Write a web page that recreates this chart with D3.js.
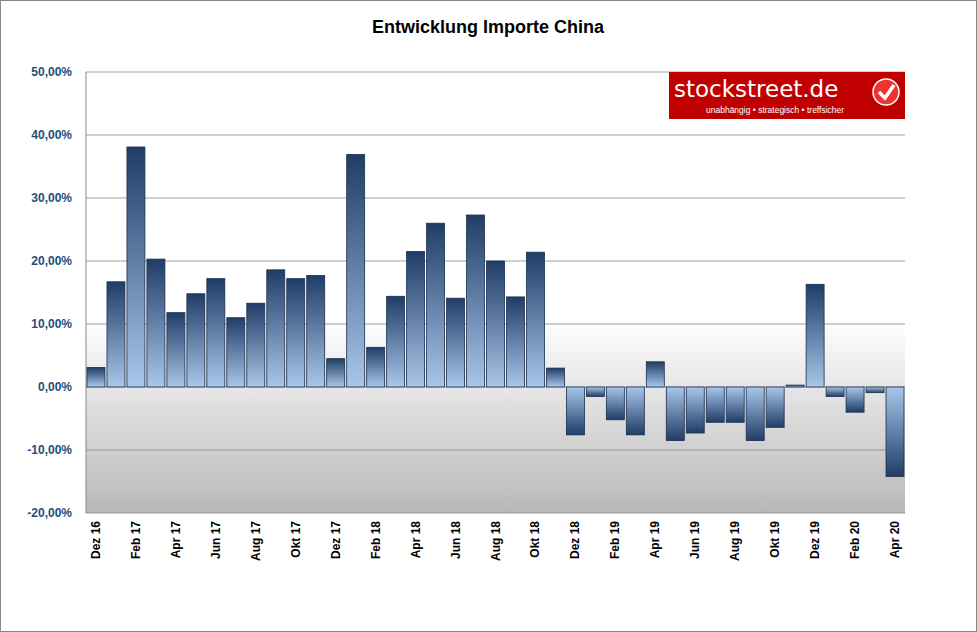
<!DOCTYPE html>
<html><head><meta charset="utf-8">
<script src="https://cdn.jsdelivr.net/npm/d3@7"></script>
<style>body{margin:0;background:#fff}svg{display:block}</style></head>
<body><svg id="c" width="977" height="632"></svg>
<script>
const categories=["Dez 16","Jan 17","Feb 17","Mär 17","Apr 17","Mai 17","Jun 17","Jul 17","Aug 17","Sep 17","Okt 17","Nov 17","Dez 17","Jan 18","Feb 18","Mär 18","Apr 18","Mai 18","Jun 18","Jul 18","Aug 18","Sep 18","Okt 18","Nov 18","Dez 18","Jan 19","Feb 19","Mär 19","Apr 19","Mai 19","Jun 19","Jul 19","Aug 19","Sep 19","Okt 19","Nov 19","Dez 19","Jan 20","Feb 20","Mär 20","Apr 20"];
const values=[3.1,16.7,38.1,20.3,11.8,14.8,17.2,11.0,13.3,18.6,17.2,17.7,4.5,36.9,6.3,14.4,21.5,26.0,14.1,27.3,20.0,14.3,21.4,3.0,-7.6,-1.5,-5.2,-7.6,4.0,-8.5,-7.3,-5.6,-5.6,-8.5,-6.4,0.3,16.3,-1.5,-4.0,-0.9,-14.2];
const yTicks=[-20,-10,0,10,20,30,40,50];
const svg=d3.select("#c");
const L=86,R=905,T=72,B=513;
svg.append("rect").attr("x",0.5).attr("y",0.5).attr("width",976).attr("height",631).attr("fill","#fff").attr("stroke","#888");
const x=d3.scaleBand().domain(categories).range([L,R]).paddingInner(0.1).paddingOuter(0.05);
const y=d3.scaleLinear().domain([-20,50]).range([B,T]);
const defs=svg.append("defs");
const bg=defs.append("linearGradient").attr("id","bg").attr("x1",0).attr("y1",0).attr("x2",0).attr("y2",1);
bg.append("stop").attr("offset",0).attr("stop-color","#fff");
bg.append("stop").attr("offset",0.56).attr("stop-color","#fff");
bg.append("stop").attr("offset",1).attr("stop-color","#b8b8b8");
const gp=defs.append("linearGradient").attr("id","gp").attr("x1",0).attr("y1",0).attr("x2",0).attr("y2",1);
gp.append("stop").attr("offset",0).attr("stop-color","#1f3d66");
gp.append("stop").attr("offset",1).attr("stop-color","#a9c6ea");
const gn=defs.append("linearGradient").attr("id","gn").attr("x1",0).attr("y1",1).attr("x2",0).attr("y2",0);
gn.append("stop").attr("offset",0).attr("stop-color","#1f3d66");
gn.append("stop").attr("offset",1).attr("stop-color","#a9c6ea");
svg.append("rect").attr("x",L).attr("y",T).attr("width",R-L).attr("height",B-T).attr("fill","url(#bg)");
svg.append("g").selectAll("line").data(yTicks).join("line")
 .attr("x1",L).attr("x2",R).attr("y1",d=>y(d)).attr("y2",d=>y(d)).attr("stroke","#888").attr("stroke-width",0.8);
svg.append("line").attr("x1",L).attr("x2",L).attr("y1",T).attr("y2",B).attr("stroke","#888");
svg.append("g").selectAll("text").data(yTicks).join("text")
 .attr("x",L-14).attr("y",d=>y(d)+4).attr("text-anchor","end")
 .attr("font-family","Liberation Sans, Arial").attr("font-size",12).attr("font-weight","bold").attr("fill","#1f4e79")
 .text(d=>d.toFixed(2).replace(".",",")+"%");
svg.append("g").selectAll("rect").data(values).join("rect")
 .attr("x",(d,i)=>x(categories[i])).attr("width",x.bandwidth())
 .attr("y",d=>y(Math.max(0,d))).attr("height",d=>Math.abs(y(d)-y(0)))
 .attr("fill",d=>d>=0?"url(#gp)":"url(#gn)").attr("stroke","#1a2f4f").attr("stroke-width",0.8);
svg.append("g").selectAll("text").data(categories.filter((c,i)=>i%2==0)).join("text")
 .attr("transform",d=>`translate(${x(d)+x.bandwidth()/2+4},${B+8}) rotate(-90)`)
 .attr("text-anchor","end").attr("font-family","Liberation Sans, Arial").attr("font-size",12).attr("font-weight","bold").attr("fill","#000")
 .text(d=>d);
svg.append("text").attr("x",488).attr("y",33).attr("text-anchor","middle").attr("font-family","Liberation Sans, Arial")
 .attr("font-size",18).attr("font-weight","bold").text("Entwicklung Importe China");
const lg=svg.append("g");
lg.append("rect").attr("x",669).attr("y",72).attr("width",236).attr("height",47).attr("fill","#c00000");
lg.append("text").attr("x",674).attr("y",97).attr("font-family","DejaVu Sans").attr("font-size",23).attr("fill","#fff").text("stockstreet.de");
lg.append("text").attr("x",706).attr("y",113).attr("font-family","Liberation Sans").attr("font-size",8.5).attr("fill","#fff").text("unabhängig • strategisch • treffsicher");
lg.append("circle").attr("cx",886).attr("cy",92).attr("r",13).attr("fill","#e33").attr("stroke","#fff").attr("stroke-width",1.5);
lg.append("path").attr("d","M879,92 L885,98 L894,85").attr("fill","none").attr("stroke","#fff").attr("stroke-width",3.5);
</script></body></html>
